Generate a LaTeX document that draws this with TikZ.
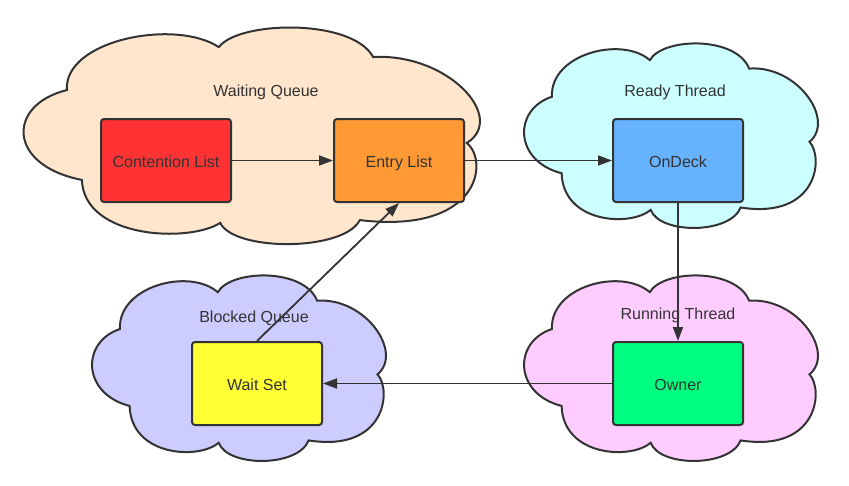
\documentclass[tikz,border=0pt]{standalone}
\usepackage{fontspec}
\setmainfont{Liberation Sans}
\usetikzlibrary{arrows.meta}
\definecolor{ink}{HTML}{333333}
\definecolor{cContention}{HTML}{FF3333}
\definecolor{cEntry}{HTML}{FF9933}
\definecolor{cOnDeck}{HTML}{66B2FF}
\definecolor{cWait}{HTML}{FFFF33}
\definecolor{cOwner}{HTML}{00FF80}
\definecolor{cWQ}{HTML}{FFE6CC}
\definecolor{cRT}{HTML}{CCFFFF}
\definecolor{cBQ}{HTML}{CCCCFF}
\definecolor{cRun}{HTML}{FFCCFF}
\tikzset{
  pics/cloudshape/.style={code={
    \path[pic actions] (0.092,0.292)
      .. controls (0.085,0.06) and (0.33,-0.04) .. (0.426,0.093)
      .. controls (0.47,-0.03) and (0.72,-0.04) .. (0.765,0.139)
      .. controls (0.93,0.12) and (1.06,0.42) .. (0.971,0.537)
      .. controls (1.02,0.62) and (1.0,0.96) .. (0.736,0.894)
      .. controls (0.70,1.04) and (0.46,1.04) .. (0.429,0.907)
      .. controls (0.36,1.0) and (0.13,0.98) .. (0.125,0.708)
      .. controls (-0.04,0.64) and (-0.04,0.36) .. (0.092,0.292) -- cycle;
  }},
  cloudst/.style={draw=ink, line width=2pt},
  boxst/.style={draw=ink, line width=2pt, rounded corners=3pt,
    minimum width=130pt, minimum height=83pt, inner sep=0pt, text=ink,
    text height=16pt, text depth=1.5pt,
    font=\fontsize{16}{19}\selectfont},
  labelst/.style={text=ink, font=\fontsize{16}{19}\selectfont, inner sep=0pt,
    text height=11.5pt, text depth=0pt},
  edgest/.style={draw=ink, line width=1.8pt, -{Triangle[length=14pt,width=10pt]}},
}
\begin{document}
\begin{tikzpicture}[x=1pt,y=-1pt]
\useasboundingbox (0,0) rectangle (849,485);
% clouds
\pic[cloudst, fill=cWQ, shift={(25,27)}, xscale=455, yscale=216] {cloudshape};
\pic[cloudst, fill=cRT, shift={(525,43)}, xscale=293, yscale=184] {cloudshape};
\pic[cloudst, fill=cBQ, shift={(93,275)}, xscale=293, yscale=185] {cloudshape};
\pic[cloudst, fill=cRun, shift={(525,275)}, xscale=293, yscale=185] {cloudshape};
% cloud labels
\node[labelst] (lwq) at (266,90.5) {Waiting Queue};
\node[labelst] (lrt) at (675,91) {Ready Thread};
\node[labelst] (lbq) at (254,317) {Blocked Queue};
\node[labelst] (lrun) at (678,314) {Running Thread};
% boxes
\node[boxst, fill=cContention] (cl) at (166,160.5) {Contention List};
\node[boxst, fill=cEntry] (el) at (399,160.5) {Entry List};
\node[boxst, fill=cOnDeck] (od) at (678,160.5) {OnDeck};
\node[boxst, fill=cWait] (ws) at (257,383.5) {Wait Set};
\node[boxst, fill=cOwner] (ow) at (678,383.5) {Owner};
% edges
\draw[edgest] (cl.east) -- (el.west);
\draw[edgest] (el.east) -- (od.west);
\draw[edgest] (od.south) -- (ow.north);
\draw[edgest] (ow.west) -- (ws.east);
\draw[edgest] (ws.north) -- (el.south);
\end{tikzpicture}
\end{document}
